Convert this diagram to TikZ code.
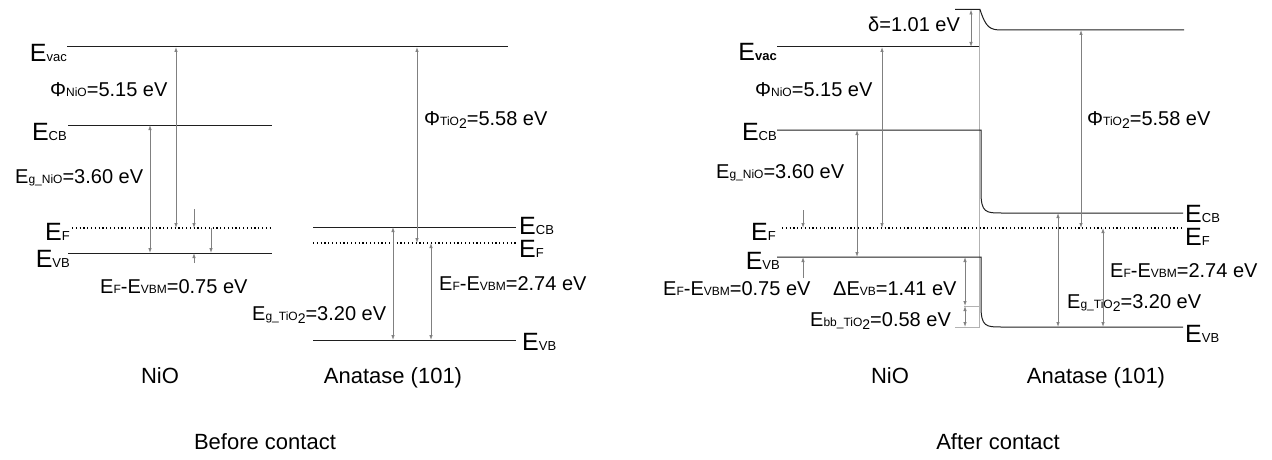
\documentclass[tikz,border=0pt]{standalone}
\usepackage{fontspec}
\setmainfont{Liberation Sans}
\usetikzlibrary{arrows.meta,positioning,calc}

\newcommand{\lsub}[1]{{\fontsize{13}{13}\selectfont #1}}
\newcommand{\tsub}[1]{{\fontsize{12}{12}\selectfont #1}}
\newcommand{\tiosub}{\tsub{TiO\raisebox{-3pt}{\fontsize{14}{14}\selectfont 2}}}

\begin{document}
\begin{tikzpicture}[
  x=1pt,y=-1pt,
  font=\fontsize{20}{24}\selectfont,
  level/.style={draw=black!88, line width=1pt},
  fermi/.style={draw=black, line width=1.2pt, dash pattern=on 1.2pt off 2.6pt},
  guide/.style={draw=black!30, line width=0.7pt},
  dim/.style={{Latex[length=5pt,width=3.5pt]}-{Latex[length=5pt,width=3.5pt]}, draw=black!50, line width=0.8pt},
  tip/.style={-{Latex[length=5pt,width=3.5pt]}, draw=black!50, line width=0.8pt},
  elabel/.style={font=\fontsize{25}{28}\selectfont, inner sep=0pt},
  txt/.style={inner sep=0pt, anchor=base west},
  caption/.style={font=\fontsize{22}{26}\selectfont, inner sep=0pt, anchor=base}
]
\useasboundingbox (0,0) rectangle (1272,460);

% ================= Before contact =================
\coordinate (vacA1) at (67,47);  \coordinate (vacA2) at (508,47);
\coordinate (cbN1) at (68,125);  \coordinate (cbN2) at (272,125);
\coordinate (fN1) at (72,228);   \coordinate (fN2) at (272,228);
\coordinate (vbN1) at (68,253);  \coordinate (vbN2) at (272,253);
\coordinate (cbT1) at (313,227); \coordinate (cbT2) at (516,227);
\coordinate (fT1) at (313,243);  \coordinate (fT2) at (516,243);
\coordinate (vbT1) at (313,340); \coordinate (vbT2) at (516,340);

\draw[level] (vacA1) -- (vacA2);
\draw[level] (cbN1) -- (cbN2);
\draw[fermi] (fN1) -- (fN2);
\draw[level] (vbN1) -- (vbN2);
\draw[level] (cbT1) -- (cbT2);
\draw[fermi] (fT1) -- (fT2);
\draw[level] (vbT1) -- (vbT2);

\node[elabel, anchor=base east] (evacA) at (67,62) {E\lsub{vac}};
\node[elabel, anchor=base east] (ecbNA) at (67,140) {E\lsub{CB}};
\node[elabel, anchor=base east] (efNA) at (70,240) {E\lsub{F}};
\node[elabel, anchor=base east] (evbNA) at (70,267) {E\lsub{VB}};
\node[elabel, anchor=base west] (ecbTA) at (519,234) {E\lsub{CB}};
\node[elabel, anchor=base west] (efTA) at (519,257) {E\lsub{F}};
\node[elabel, anchor=base west] (evbTA) at (522,350) {E\lsub{VB}};

\draw[dim] (176,0 |- vacA1) -- (176,0 |- fN1);
\draw[dim] (150,0 |- cbN1) -- (150,0 |- vbN1);
\coordinate (efpA) at (194,209);
\coordinate (evpA) at (194,263);
\draw[tip] (efpA) -- (194,0 |- fN1);
\draw[tip] (evpA) -- (194,0 |- vbN1);
\draw[tip] (211,0 |- fN1) -- (211,0 |- vbN1);
\draw[dim] (417,0 |- vacA1) -- (417,0 |- fT1);
\draw[dim] (393,0 |- cbT1) -- (393,0 |- vbT1);
\draw[dim] (431,0 |- fT1) -- (431,0 |- vbT1);

\node[txt] (phiNA) at (50,96) {Φ\tsub{NiO}=5.15 eV};
\node[txt] (egNA) at (15,183) {E\tsub{g\_NiO}=3.60 eV};
\node[txt] (dfNA) at (100,293) {E\tsub{F}-E\tsub{VBM}=0.75 eV};
\node[txt] (phiTA) at (424,125) {Φ\tiosub=5.58 eV};
\node[txt] (egTA) at (252,320) {E\tsub{g\_}\tiosub=3.20 eV};
\node[txt] (dfTA) at (439,290) {E\tsub{F}-E\tsub{VBM}=2.74 eV};

\node[caption] (nioA) at (160,383) {NiO};
\node[caption] (anaA) at (393,383) {Anatase (101)};
\node[caption] (capA) at (265,449) {Before contact};

% ================= After contact =================
\coordinate (vacN1) at (777,47); \coordinate (vacN2) at (979,47);
\coordinate (vacT0) at (955,9.5);
\coordinate (vacT2) at (1184,30);
\coordinate (cbB1) at (777,130); \coordinate (cbB2) at (1183,213);
\coordinate (fB1) at (782,228);  \coordinate (fB2) at (1183,228);
\coordinate (vbB1) at (777,257); \coordinate (vbB2) at (1183,327);
\coordinate (ifTop) at (979,9);  \coordinate (ifBot) at (979,328);
\coordinate (bbTop) at (964,306);
\coordinate (bbBot) at (955,327);

\draw[guide] (ifTop) -- (ifBot);
\draw[guide] (bbTop) -- (980,0 |- bbTop);
\draw[guide] (bbBot) -- (980,0 |- bbBot);

\draw[level] (vacN1) -- (vacN2);
\draw[level] (vacT0) -- (980,9.5) .. controls (986,28) and (990,30) .. (1002,30) -- (vacT2);
\draw[level] (cbB1) -- (981,130) -- (981,192) .. controls (981,213) and (986,213) .. (1002,213) -- (cbB2);
\draw[fermi] (fB1) -- (fB2);
\draw[level] (vbB1) -- (981,257) -- (981,306) .. controls (981,327) and (986,327) .. (1002,327) -- (vbB2);

\node[elabel, anchor=base east] (evacB) at (777,60) {E\lsub{\bfseries vac}};
\node[elabel, anchor=base east] (ecbNB) at (777,140) {E\lsub{CB}};
\node[elabel, anchor=base east] (efNB) at (776,240) {E\lsub{F}};
\node[elabel, anchor=base east] (evbNB) at (780,269) {E\lsub{VB}};
\node[elabel, anchor=base west] (ecbTB) at (1185,222) {E\lsub{CB}};
\node[elabel, anchor=base west] (efTB) at (1185,245) {E\lsub{F}};
\node[elabel, anchor=base west] (evbTB) at (1185,342) {E\lsub{VB}};

\draw[dim] (971,0 |- vacT0) -- (971,0 |- vacN1);
\draw[dim] (882,0 |- vacN1) -- (882,0 |- fB1);
\draw[dim] (857,0 |- cbB1) -- (857,0 |- vbB1);
\coordinate (efpB) at (803,210);
\coordinate (evpB) at (803,278);
\draw[tip] (efpB) -- (803,0 |- fB1);
\draw[tip] (evpB) -- (803,0 |- vbB1);
\draw[dim] (965,0 |- vbB1) -- (965,0 |- bbTop);
\draw[dim] (965,0 |- bbTop) -- (965,0 |- bbBot);
\draw[dim] (1081,0 |- vacT2) -- (1081,0 |- fB1);
\draw[dim] (1058,0 |- cbB2) -- (1058,0 |- vbB2);
\draw[dim] (1103,0 |- fB2) -- (1103,0 |- vbB2);

\node[txt] (delB) at (868,32) {δ=1.01 eV};
\node[txt] (phiNB) at (755,96) {Φ\tsub{NiO}=5.15 eV};
\node[txt] (egNB) at (716,178) {E\tsub{g\_NiO}=3.60 eV};
\node[txt] (dfNB) at (663,295) {E\tsub{F}-E\tsub{VBM}=0.75 eV};
\node[txt] (dvbB) at (833,295) {ΔE\tsub{VB}=1.41 eV};
\node[txt] (ebbB) at (810,326) {E\tsub{bb\_}\tiosub=0.58 eV};
\node[txt] (phiTB) at (1087,125) {Φ\tiosub=5.58 eV};
\node[txt] (dfTB) at (1110,277) {E\tsub{F}-E\tsub{VBM}=2.74 eV};
\node[txt] (egTB) at (1067,308) {E\tsub{g\_}\tiosub=3.20 eV};

\node[caption] (nioB) at (890,383) {NiO};
\node[caption] (anaB) at (1096,383) {Anatase (101)};
\node[caption] (capB) at (998,449) {After contact};

\end{tikzpicture}
\end{document}
